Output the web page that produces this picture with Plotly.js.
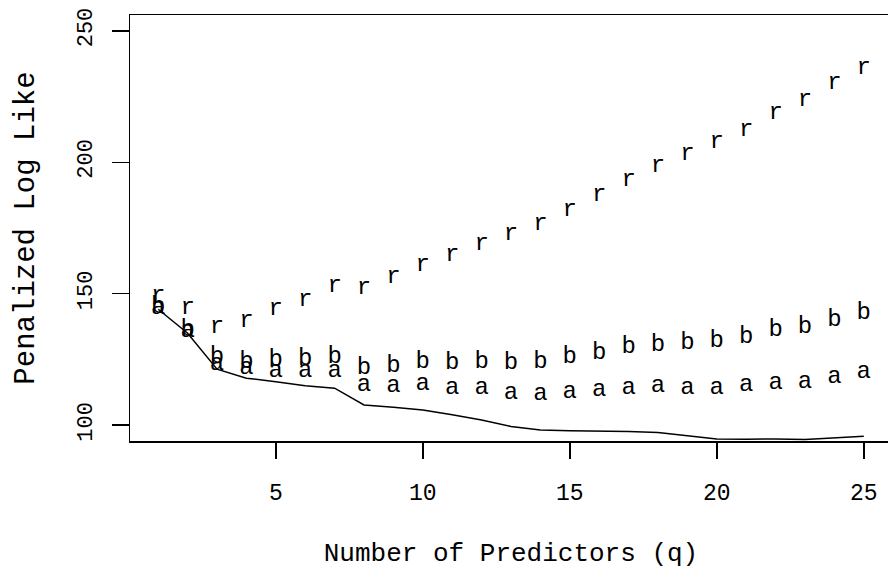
<!DOCTYPE html>
<html>
<head>
<meta charset="utf-8">
<script src="https://cdn.plot.ly/plotly-3.0.1.min.js"></script>
<style>
html, body { margin: 0; padding: 0; overflow: hidden; background: #fff; }
#chart { width: 892px; height: 569px; }
</style>
</head>
<body>
<div id="chart"></div>
<script>
// Number of predictors q
const q = [1,2,3,4,5,6,7,8,9,10,11,12,13,14,15,16,17,18,19,20,21,22,23,24,25];
// Text-marker series
const seriesR = [149.0,144.5,137.2,139.7,144.3,147.7,152.8,152.1,156.5,160.8,164.8,169.0,172.6,176.6,181.7,187.6,193.2,198.5,203.2,207.6,212.4,218.7,223.8,230.1,236.0];
const seriesB = [144.8,136.3,126.1,124.2,124.9,125.1,126.1,121.7,122.7,124.0,123.6,124.0,123.6,124.0,125.8,127.4,129.6,130.6,131.2,132.1,133.7,136.3,137.5,140.1,142.6];
const seriesA = [144.4,136.0,123.2,121.7,120.7,120.6,120.6,115.4,115.0,115.6,114.3,114.1,112.2,111.9,112.8,113.5,114.1,115.0,114.3,114.1,115.4,116.0,116.6,118.5,120.2];
// Solid line series
const lineVals = [144.1,135.0,121.3,117.9,116.5,115.0,114.1,107.7,106.8,105.8,104.0,102.0,99.5,98.2,97.9,97.8,97.6,97.2,95.9,94.8,94.7,94.8,94.6,95.2,95.8];
const labelR = "r", labelB = "b", labelA = "a";
const xTicks = [5,10,15,20,25];
const yTicks = [100,150,200,250];

const FONT = "'Courier New', Courier, 'Nimbus Mono PS', 'Liberation Mono', monospace";

function textTrace(vals, ch) {
  return {
    x: q, y: vals, mode: 'text', type: 'scatter',
    text: vals.map(() => ch),
    textposition: 'middle center',
    textfont: { family: FONT, size: 24, color: '#000' },
    hoverinfo: 'skip', showlegend: false, cliponaxis: false
  };
}

const data = [
  { x: q, y: lineVals, mode: 'lines', type: 'scatter',
    line: { color: '#000', width: 1.5 }, showlegend: false },
  textTrace(seriesR, labelR),
  textTrace(seriesB, labelB),
  textTrace(seriesA, labelA)
];

const layout = {
  width: 892, height: 569,
  margin: { l: 130, r: 0, t: 15, b: 128, pad: 0 },
  paper_bgcolor: '#fff', plot_bgcolor: '#fff',
  showlegend: false,
  font: { family: FONT, color: '#000' },
  xaxis: {
    range: [0.04, 25.96], tickvals: xTicks, ticktext: xTicks.map(String),
    ticks: 'outside', ticklen: 16, tickwidth: 1.5, tickcolor: '#000',
    showline: true, linecolor: '#000', linewidth: 1.5, mirror: true,
    showgrid: false, zeroline: false,
    tickfont: { family: FONT, size: 23, color: '#000' },
    ticklabelstandoff: 14,
    title: { text: 'Number of Predictors (q)', font: { family: FONT, size: 26, color: '#000' }, standoff: 40 },
    automargin: false
  },
  yaxis: {
    range: [94, 256], tickvals: yTicks, ticktext: yTicks.map(String),
    ticks: 'outside', ticklen: 17, tickwidth: 1.5, tickcolor: '#000',
    showline: true, linecolor: '#000', linewidth: 1.5, mirror: true,
    showgrid: false, zeroline: false,
    tickangle: -90,
    tickfont: { family: FONT, size: 22, color: '#000' },
    ticklabelstandoff: 11,
    title: { text: 'Penalized Log Like', font: { family: FONT, size: 29, color: '#000' }, standoff: 30 },
    automargin: false
  }
};

Plotly.newPlot('chart', data, layout, { displayModeBar: false, staticPlot: true });
</script>
</body>
</html>
